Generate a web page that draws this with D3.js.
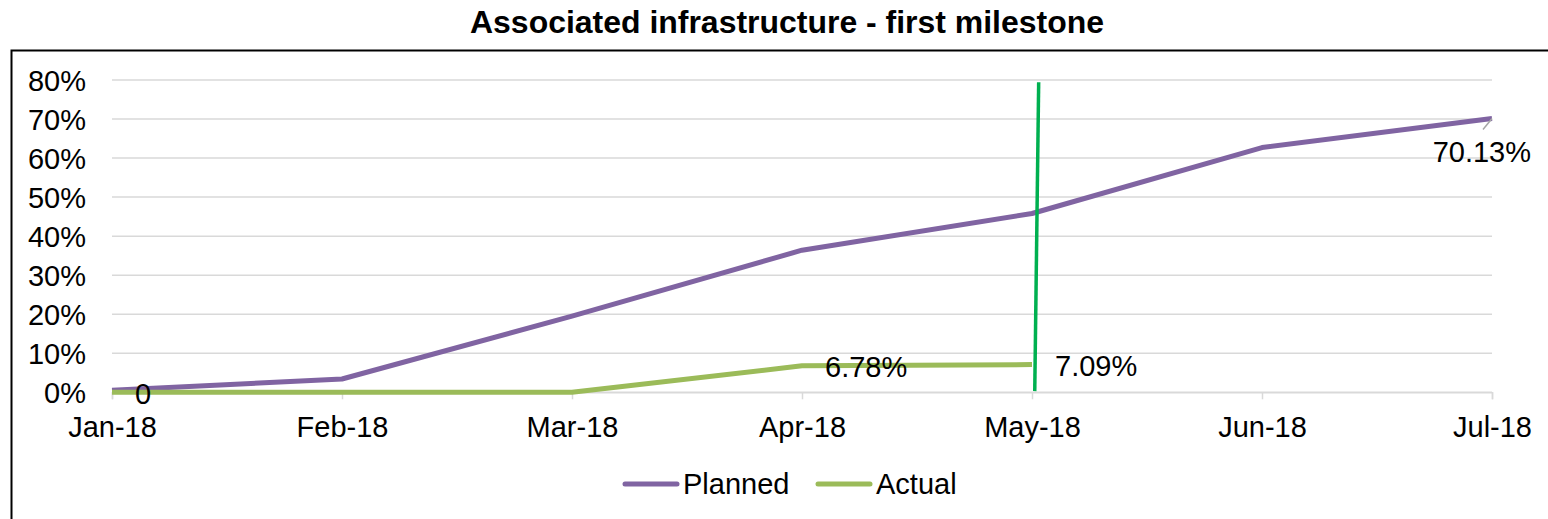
<!DOCTYPE html>
<html>
<head>
<meta charset="utf-8">
<script src="https://cdn.jsdelivr.net/npm/d3@7"></script>
<style>
	body{margin:0;background:#fff}
	text{font-family:"Liberation Sans",Arial,sans-serif;fill:#000}
</style>
</head>
<body>
<div id="chart"></div>
<script>
// data
var months=["Jan-18","Feb-18","Mar-18","Apr-18","May-18","Jun-18","Jul-18"]
var planned=[0.005,0.034,0.195,0.364,0.458,0.627,0.7013]
var actual=[0,0,0,0.0678,0.0709]
var yTicks=[0,0.1,0.2,0.3,0.4,0.5,0.6,0.7,0.8]
// vertical "today" marker, month index / value at bottom and top
var todayMonth=[4.012,4.029]
var todayValue=[0.003,0.794]
// data labels shown: [month index, text]
var labelsActual=[[0,"0"],[3,"6.78%"],[4,"7.09%"]]
var labelsPlanned=[[6,"70.13%"]]

var W=1548,H=519
var fs=29

var svg=d3.select("#chart").append("svg")
	.attr("width",W).attr("height",H)

// outer frame (right/bottom cut off in the picture)
svg.append("path")
	.attr("d","M11.5,"+H+"V50.5H"+W)
	.attr("fill","none").attr("stroke","#000").attr("stroke-width",2)

svg.append("text")
	.attr("x",787).attr("y",33)
	.attr("text-anchor","middle")
	.attr("font-weight","bold")
	.attr("font-size",31)
	.attr("textLength",634).attr("lengthAdjust","spacingAndGlyphs")
	.text("Associated infrastructure - first milestone")

var x=d3.scaleLinear().domain([0,6]).range([112,1492])
var y=d3.scaleLinear().domain([0,0.8]).range([392.3,80])

// gridlines
svg.append("g").selectAll("line").data(yTicks).enter().append("line")
	.attr("x1",x(0)).attr("x2",x(6))
	.attr("y1",d=>y(d)).attr("y2",d=>y(d))
	.attr("stroke","#d9d9d9").attr("stroke-width",1.5)

// y axis labels
var yAxis=svg.append("g")
	.attr("transform","translate(86,0)")
	.call(d3.axisLeft(y).tickValues(yTicks).tickFormat(d3.format(".0%")).tickSize(0).tickPadding(0))
yAxis.select(".domain").remove()
yAxis.selectAll("text").attr("font-size",fs).attr("font-family",null).attr("dy","0.36em")

// x axis
var xAxis=svg.append("g")
	.attr("transform","translate(0,"+y(0)+")")
	.call(d3.axisBottom(x).tickValues(d3.range(months.length)).tickFormat(i=>months[i]).tickSize(7).tickPadding(17))
xAxis.select(".domain").attr("stroke","#d9d9d9").attr("stroke-width",1.5)
xAxis.selectAll(".tick line").attr("stroke","#d9d9d9").attr("stroke-width",1.5)
xAxis.selectAll("text").attr("font-size",fs).attr("font-family",null)

var line=d3.line()
	.x((d,i)=>x(i))
	.y(d=>y(d))

svg.append("path").datum(planned)
	.attr("d",line)
	.attr("fill","none").attr("stroke","#8064a2").attr("stroke-width",5)
	.attr("stroke-linejoin","round")

svg.append("path").datum(actual)
	.attr("d",line)
	.attr("fill","none").attr("stroke","#9bbb59").attr("stroke-width",5)
	.attr("stroke-linejoin","round")

// today marker
svg.append("line")
	.attr("x1",x(todayMonth[0])).attr("y1",y(todayValue[0]))
	.attr("x2",x(todayMonth[1])).attr("y2",y(todayValue[1]))
	.attr("stroke","#00b050").attr("stroke-width",3.5)

// data labels
svg.append("g").selectAll("text").data(labelsActual).enter().append("text")
	.attr("x",d=>x(d[0])+23)
	.attr("y",d=>y(actual[d[0]])+11.5)
	.attr("font-size",fs)
	.text(d=>d[1])

labelsPlanned.forEach(function(d){
	var px=x(d[0]),py=y(planned[d[0]])
	svg.append("line")
		.attr("x1",px-9).attr("y1",py+11)
		.attr("x2",px).attr("y2",py)
		.attr("stroke","#a6a6a6").attr("stroke-width",1.5)
	svg.append("text")
		.attr("x",px+39).attr("y",py+43.5)
		.attr("text-anchor","end")
		.attr("font-size",fs)
		.text(d[1])
})

// legend
var legend=[["Planned","#8064a2",623],["Actual","#9bbb59",816]]
var lg=svg.append("g").selectAll("g").data(legend).enter().append("g")
lg.append("line")
	.attr("x1",d=>d[2]+2).attr("x2",d=>d[2]+54)
	.attr("y1",484).attr("y2",484)
	.attr("stroke",d=>d[1]).attr("stroke-width",5).attr("stroke-linecap","round")
lg.append("text")
	.attr("x",d=>d[2]+60).attr("y",494)
	.attr("font-size",fs)
	.text(d=>d[0])
</script>
</body>
</html>
